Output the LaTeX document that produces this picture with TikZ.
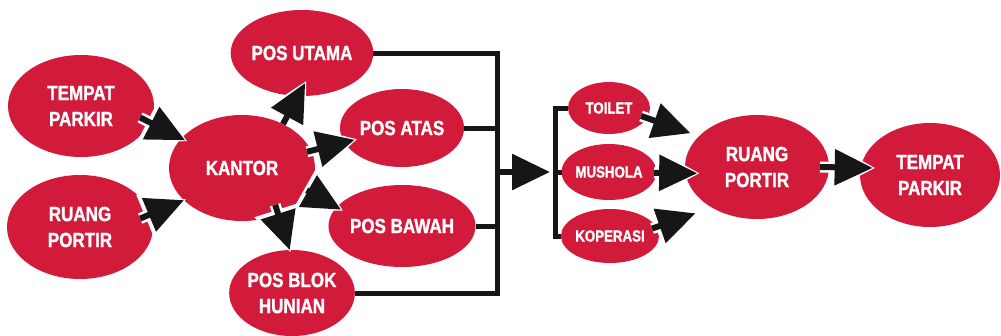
\documentclass[tikz,border=0pt]{standalone}
\usepackage{fontspec}
\newfontfamily\labfont{Liberation Sans Bold}[FakeStretch=0.83,FakeBold=1.3]
\usetikzlibrary{arrows.meta,calc,shapes.geometric}
\definecolor{nodered}{RGB}{210,26,58}
\definecolor{ink}{RGB}{22,22,22}
\begin{document}
\begin{tikzpicture}[x=1pt,y=-1pt,
  blob/.style={ellipse, fill=nodered, inner sep=0pt, outer sep=0pt, text=white,
    font=\labfont\fontsize{20.5}{26}\selectfont, align=center},
  smallblob/.style={blob, font=\labfont\fontsize{16}{19}\selectfont},
  flowplain/.style={line width=6pt, draw=ink, -{Triangle[length=38pt,width=35pt]}},
  flow/.style={flowplain, preaction={draw=white, line width=11pt,
    -{Triangle[length=45pt,width=44pt]}, shorten >=-3pt}},
  bar/.style={line width=5pt, draw=ink, line join=miter}]
\useasboundingbox (0,0) rectangle (1001,335);
% nodes
\node[blob, minimum width=146pt, minimum height=102pt] (tpl) at (81,106) {TEMPAT\\PARKIR};
\node[blob, minimum width=146pt, minimum height=104pt] (rpl) at (80,227) {RUANG\\PORTIR};
\node[blob, minimum width=146pt, minimum height=106pt] (kantor) at (242,168) {KANTOR};
\node[blob, minimum width=124pt, minimum height=86pt] (posu) at (302,53) {POS UTAMA};
\node[blob, minimum width=124pt, minimum height=78pt] (posa) at (402,128) {POS ATAS};
\node[blob, minimum width=126pt, minimum height=82pt] (posw) at (402,226) {POS BAWAH};
\node[blob, minimum width=124pt, minimum height=86pt] (posb) at (292,293) {POS BLOK\\HUNIAN};
\node[smallblob, minimum width=82pt, minimum height=52pt] (toilet) at (609,108) {TOILET};
\node[smallblob, minimum width=80pt, minimum height=56pt] (mush) at (609,172) {MUSHOLA};
\node[smallblob, minimum width=80pt, minimum height=54pt] (kop) at (610,236) {KOPERASI};
\node[blob, minimum width=144pt, minimum height=104pt] (rpr) at (757,167) {RUANG\\PORTIR};
\node[blob, minimum width=140pt, minimum height=104pt] (tpr) at (930,175) {TEMPAT\\PARKIR};
\coordinate (bx) at (497,0);
\coordinate (cx) at (555,0);
% arrows
\draw[flow] ($(tpl)!0.84!(tpl.-11)$) -- ($(kantor)!0.94!(kantor.154)$);
\draw[flow] ($(rpl)!0.84!(rpl.8.5)$) -- (kantor.209);
\draw[flow] (kantor.47) -- ($(posu)!0.7!(posu.-84)$);
\draw[flow] ($(kantor)!0.94!(kantor.14)$) -- ($(posa)!0.82!(posa.194)$);
\draw[flow] ($(kantor)!0.98!(kantor.-19)$) -- ($(posw)!0.92!(posw.165)$);
\draw[flow] ($(kantor)!0.83!(kantor.-48)$) -- (posb.93);
\draw[flowplain, shorten >=5pt] (mush.west -| bx) -- (mush.west -| cx);
\draw[flow] ($(toilet)!0.84!(toilet.-14)$) -- ($(rpr)!1.13!(rpr.153)$);
\draw[flow] ($(mush)!0.95!(mush.-1)$) -- ($(rpr)!0.84!(rpr.186)$);
\draw[flow] ($(kop)!0.9!(kop.10)$) -- ($(rpr)!1.235!(rpr.217)$);
\draw[flow] ($(rpr)!0.875!(rpr.0)$) -- ($(tpr)!0.83!(tpr.173)$);
% brackets
\draw[bar] (posu.east) -- (posu.east -| bx) -- (posb.east -| bx) -- (posb.east);
\draw[bar] (posa.east) -- (posa.east -| bx);
\draw[bar] (posw.east) -- (posw.east -| bx);
\draw[bar] (toilet.west) -- (toilet.west -| cx) -- (kop.west -| cx) -- (kop.west);
\draw[bar] (mush.west) -- (mush.west -| cx);
\end{tikzpicture}
\end{document}
